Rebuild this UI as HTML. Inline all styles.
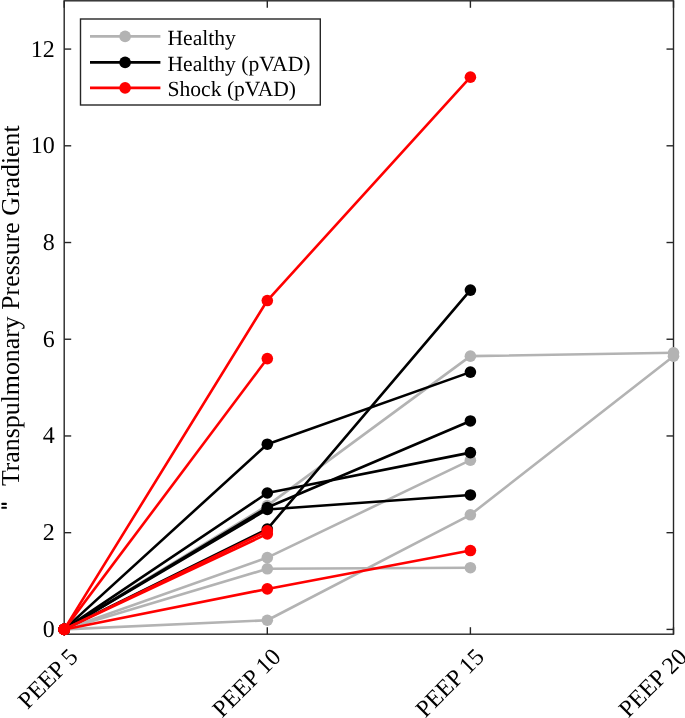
<!DOCTYPE html>
<html><head><meta charset="utf-8"><style>
html,body{margin:0;padding:0;background:#fff;width:685px;height:718px;overflow:hidden}
svg{display:block;font-family:"Liberation Serif",serif;fill:#000}
text{fill:#000;text-rendering:geometricPrecision}
</style></head><body>
<svg width="685" height="718" viewBox="0 0 685 718">
<rect width="685" height="718" fill="#fff"/>
<rect x="64.2" y="0.8" width="609.3" height="633.4000000000001" fill="none" stroke="#262626" stroke-width="1.4"/>
<line x1="64.2" y1="629.40" x2="71.2" y2="629.40" stroke="#262626" stroke-width="1.4"/>
<line x1="673.5" y1="629.40" x2="666.5" y2="629.40" stroke="#262626" stroke-width="1.4"/>
<line x1="64.2" y1="532.68" x2="71.2" y2="532.68" stroke="#262626" stroke-width="1.4"/>
<line x1="673.5" y1="532.68" x2="666.5" y2="532.68" stroke="#262626" stroke-width="1.4"/>
<line x1="64.2" y1="435.96" x2="71.2" y2="435.96" stroke="#262626" stroke-width="1.4"/>
<line x1="673.5" y1="435.96" x2="666.5" y2="435.96" stroke="#262626" stroke-width="1.4"/>
<line x1="64.2" y1="339.24" x2="71.2" y2="339.24" stroke="#262626" stroke-width="1.4"/>
<line x1="673.5" y1="339.24" x2="666.5" y2="339.24" stroke="#262626" stroke-width="1.4"/>
<line x1="64.2" y1="242.52" x2="71.2" y2="242.52" stroke="#262626" stroke-width="1.4"/>
<line x1="673.5" y1="242.52" x2="666.5" y2="242.52" stroke="#262626" stroke-width="1.4"/>
<line x1="64.2" y1="145.80" x2="71.2" y2="145.80" stroke="#262626" stroke-width="1.4"/>
<line x1="673.5" y1="145.80" x2="666.5" y2="145.80" stroke="#262626" stroke-width="1.4"/>
<line x1="64.2" y1="49.08" x2="71.2" y2="49.08" stroke="#262626" stroke-width="1.4"/>
<line x1="673.5" y1="49.08" x2="666.5" y2="49.08" stroke="#262626" stroke-width="1.4"/>
<line x1="64.20" y1="634.2" x2="64.20" y2="627.2" stroke="#262626" stroke-width="1.4"/>
<line x1="64.20" y1="0.8" x2="64.20" y2="7.8" stroke="#262626" stroke-width="1.4"/>
<line x1="267.30" y1="634.2" x2="267.30" y2="627.2" stroke="#262626" stroke-width="1.4"/>
<line x1="267.30" y1="0.8" x2="267.30" y2="7.8" stroke="#262626" stroke-width="1.4"/>
<line x1="470.40" y1="634.2" x2="470.40" y2="627.2" stroke="#262626" stroke-width="1.4"/>
<line x1="470.40" y1="0.8" x2="470.40" y2="7.8" stroke="#262626" stroke-width="1.4"/>
<line x1="673.50" y1="634.2" x2="673.50" y2="627.2" stroke="#262626" stroke-width="1.4"/>
<line x1="673.50" y1="0.8" x2="673.50" y2="7.8" stroke="#262626" stroke-width="1.4"/>
<polyline points="64.20,629.40 267.30,505.60 470.40,356.17 673.50,352.78" fill="none" stroke="#b3b3b3" stroke-width="2.6" stroke-linejoin="round"/>
<circle cx="64.20" cy="629.40" r="5.8" fill="#b3b3b3"/>
<circle cx="267.30" cy="505.60" r="5.8" fill="#b3b3b3"/>
<circle cx="470.40" cy="356.17" r="5.8" fill="#b3b3b3"/>
<circle cx="673.50" cy="352.78" r="5.8" fill="#b3b3b3"/>
<polyline points="64.20,629.40 267.30,557.59 470.40,460.14" fill="none" stroke="#b3b3b3" stroke-width="2.6" stroke-linejoin="round"/>
<circle cx="64.20" cy="629.40" r="5.8" fill="#b3b3b3"/>
<circle cx="267.30" cy="557.59" r="5.8" fill="#b3b3b3"/>
<circle cx="470.40" cy="460.14" r="5.8" fill="#b3b3b3"/>
<polyline points="64.20,629.40 267.30,568.80 470.40,567.69" fill="none" stroke="#b3b3b3" stroke-width="2.6" stroke-linejoin="round"/>
<circle cx="64.20" cy="629.40" r="5.8" fill="#b3b3b3"/>
<circle cx="267.30" cy="568.80" r="5.8" fill="#b3b3b3"/>
<circle cx="470.40" cy="567.69" r="5.8" fill="#b3b3b3"/>
<polyline points="64.20,629.40 267.30,620.26 470.40,514.79 673.50,356.17" fill="none" stroke="#b3b3b3" stroke-width="2.6" stroke-linejoin="round"/>
<circle cx="64.20" cy="629.40" r="5.8" fill="#b3b3b3"/>
<circle cx="267.30" cy="620.26" r="5.8" fill="#b3b3b3"/>
<circle cx="470.40" cy="514.79" r="5.8" fill="#b3b3b3"/>
<circle cx="673.50" cy="356.17" r="5.8" fill="#b3b3b3"/>
<polyline points="64.20,629.40 267.30,444.18 470.40,372.12" fill="none" stroke="#000" stroke-width="2.6" stroke-linejoin="round"/>
<circle cx="64.20" cy="629.40" r="5.8" fill="#000"/>
<circle cx="267.30" cy="444.18" r="5.8" fill="#000"/>
<circle cx="470.40" cy="372.12" r="5.8" fill="#000"/>
<polyline points="64.20,629.40 267.30,493.02 470.40,452.64" fill="none" stroke="#000" stroke-width="2.6" stroke-linejoin="round"/>
<circle cx="64.20" cy="629.40" r="5.8" fill="#000"/>
<circle cx="267.30" cy="493.02" r="5.8" fill="#000"/>
<circle cx="470.40" cy="452.64" r="5.8" fill="#000"/>
<polyline points="64.20,629.40 267.30,507.53 470.40,420.97" fill="none" stroke="#000" stroke-width="2.6" stroke-linejoin="round"/>
<circle cx="64.20" cy="629.40" r="5.8" fill="#000"/>
<circle cx="267.30" cy="507.53" r="5.8" fill="#000"/>
<circle cx="470.40" cy="420.97" r="5.8" fill="#000"/>
<polyline points="64.20,629.40 267.30,509.47 470.40,494.96" fill="none" stroke="#000" stroke-width="2.6" stroke-linejoin="round"/>
<circle cx="64.20" cy="629.40" r="5.8" fill="#000"/>
<circle cx="267.30" cy="509.47" r="5.8" fill="#000"/>
<circle cx="470.40" cy="494.96" r="5.8" fill="#000"/>
<polyline points="64.20,629.40 267.30,529.05 470.40,290.11" fill="none" stroke="#000" stroke-width="2.6" stroke-linejoin="round"/>
<circle cx="64.20" cy="629.40" r="5.8" fill="#000"/>
<circle cx="267.30" cy="529.05" r="5.8" fill="#000"/>
<circle cx="470.40" cy="290.11" r="5.8" fill="#000"/>
<polyline points="64.20,629.40 267.30,300.55 470.40,77.13" fill="none" stroke="#f00" stroke-width="2.6" stroke-linejoin="round"/>
<circle cx="64.20" cy="629.40" r="5.8" fill="#f00"/>
<circle cx="267.30" cy="300.55" r="5.8" fill="#f00"/>
<circle cx="470.40" cy="77.13" r="5.8" fill="#f00"/>
<polyline points="64.20,629.40 267.30,358.58" fill="none" stroke="#f00" stroke-width="2.6" stroke-linejoin="round"/>
<circle cx="64.20" cy="629.40" r="5.8" fill="#f00"/>
<circle cx="267.30" cy="358.58" r="5.8" fill="#f00"/>
<polyline points="64.20,629.40 267.30,530.75" fill="none" stroke="#f00" stroke-width="2.6" stroke-linejoin="round"/>
<circle cx="64.20" cy="629.40" r="5.8" fill="#f00"/>
<circle cx="267.30" cy="530.75" r="5.8" fill="#f00"/>
<polyline points="64.20,629.40 267.30,533.89" fill="none" stroke="#f00" stroke-width="2.6" stroke-linejoin="round"/>
<circle cx="64.20" cy="629.40" r="5.8" fill="#f00"/>
<circle cx="267.30" cy="533.89" r="5.8" fill="#f00"/>
<polyline points="64.20,629.40 267.30,588.92 470.40,550.57" fill="none" stroke="#f00" stroke-width="2.6" stroke-linejoin="round"/>
<circle cx="64.20" cy="629.40" r="5.8" fill="#f00"/>
<circle cx="267.30" cy="588.92" r="5.8" fill="#f00"/>
<circle cx="470.40" cy="550.57" r="5.8" fill="#f00"/>
<rect x="80.5" y="19" width="239.8" height="86" fill="#fff" stroke="#262626" stroke-width="1.4"/>
<line x1="90" y1="36.4" x2="160.4" y2="36.4" stroke="#b3b3b3" stroke-width="2.6"/>
<circle cx="125.1" cy="36.4" r="5.8" fill="#b3b3b3"/>
<line x1="90" y1="62.4" x2="160.4" y2="62.4" stroke="#000" stroke-width="2.6"/>
<circle cx="125.1" cy="62.4" r="5.8" fill="#000"/>
<line x1="90" y1="87.9" x2="160.4" y2="87.9" stroke="#f00" stroke-width="2.6"/>
<circle cx="125.1" cy="87.9" r="5.8" fill="#f00"/>
<rect x="1.3" y="502.8" width="5.6" height="2.1" rx="0.9" fill="#000"/>
<rect x="1.3" y="506.7" width="5.6" height="2.1" rx="0.9" fill="#000"/>
<g opacity="0.999"><text x="54.70" y="636.90" text-anchor="end" font-size="24">0</text>
<text x="54.70" y="540.18" text-anchor="end" font-size="24">2</text>
<text x="54.70" y="443.46" text-anchor="end" font-size="24">4</text>
<text x="54.70" y="346.74" text-anchor="end" font-size="24">6</text>
<text x="54.70" y="250.02" text-anchor="end" font-size="24">8</text>
<text x="54.70" y="153.30" text-anchor="end" font-size="24">10</text>
<text x="54.70" y="56.58" text-anchor="end" font-size="24">12</text>
<text transform="translate(79.20,658.20) rotate(-45)" text-anchor="end" font-size="24">PEEP 5</text>
<text transform="translate(282.30,658.20) rotate(-45)" text-anchor="end" font-size="24">PEEP 10</text>
<text transform="translate(485.40,658.20) rotate(-45)" text-anchor="end" font-size="24">PEEP 15</text>
<text transform="translate(688.50,658.20) rotate(-45)" text-anchor="end" font-size="24">PEEP 20</text>
<text x="167.5" y="44.90" font-size="21.6">Healthy</text>
<text x="167.5" y="70.90" font-size="21.6">Healthy (pVAD)</text>
<text x="167.5" y="96.40" font-size="21.6">Shock (pVAD)</text>
<text transform="translate(18.7,125.3) rotate(-90)" text-anchor="end" font-size="25.85">Transpulmonary Pressure Gradient</text></g>
</svg>
</body></html>
